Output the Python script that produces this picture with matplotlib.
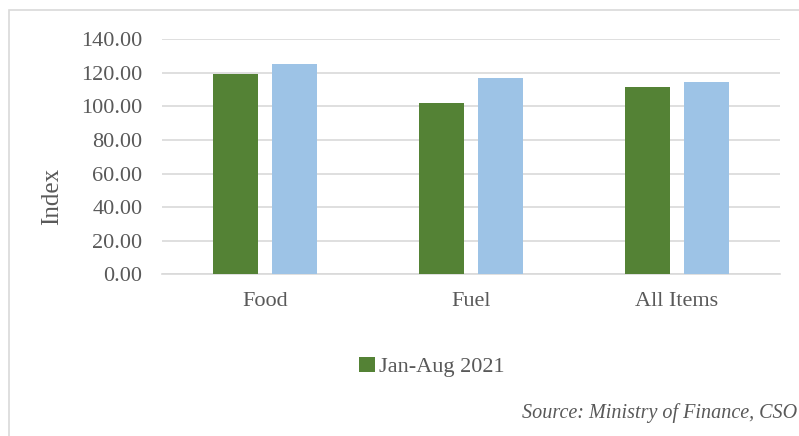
import numpy as np
import matplotlib.pyplot as plt
from matplotlib.patches import Rectangle

# data
categories = ["Food", "Fuel", "All Items"]
jan_aug_2021 = [119.5, 102.1, 111.8]
second_series = [125.3, 116.8, 114.6]
yticks = [0, 20, 40, 60, 80, 100, 120, 140]

green = "#548235"
blue = "#9DC3E6"
grey_text = "#595959"
grid_col = "#D9D9D9"

plt.rcParams["font.family"] = ["Liberation Serif", "DejaVu Serif"]

fig = plt.figure(figsize=(7.99, 4.36), dpi=100)
ax = fig.add_axes([162 / 799, 1 - 274.3 / 436, 618 / 799, 235 / 436])

x = np.arange(len(categories)) + 0.5
w = 0.222
ax.bar(x - 0.143, jan_aug_2021, w, color=green, label="Jan-Aug 2021", zorder=3)
ax.bar(x + 0.143, second_series, w, color=blue, zorder=3)

ax.set_xlim(0, 3)
ax.set_ylim(0, 140)
ax.set_yticks(yticks)
ax.set_yticklabels([f"{v:.2f}" for v in yticks], fontsize=16, color=grey_text)
ax.set_xticks(x)
ax.set_xticklabels(categories, fontsize=16, color=grey_text)
ax.tick_params(length=0)
ax.tick_params(axis="y", pad=14)
ax.tick_params(axis="x", pad=13)
ax.grid(axis="y", color=grid_col, linewidth=1.2, zorder=0)
for s in ["top", "right", "left"]:
    ax.spines[s].set_visible(False)
ax.spines["bottom"].set_color(grid_col)
ax.spines["bottom"].set_linewidth(1.2)

fig.text(52 / 799, 1 - 196 / 436, "Index", rotation=90, fontsize=18,
         color=grey_text, ha="center", va="center")

fig.legend(loc="center", bbox_to_anchor=(432 / 799, 1 - 367 / 436), frameon=False,
           fontsize=16, handlelength=0.7, handleheight=0.7, handletextpad=0.2,
           labelcolor=grey_text)

fig.text(797 / 799, 1 - 413 / 436, "Source: Ministry of Finance, CSO", style="italic",
         fontsize=14.5, color=grey_text, ha="right", va="center")

# chart border, cut off at the right and bottom
fig.patches.append(Rectangle((9 / 799, -0.1), 1.2, 1 - 10 / 436 + 0.1,
                             transform=fig.transFigure, fill=False,
                             edgecolor=grid_col, linewidth=1.2))

fig.savefig("out.png", dpi=100)
